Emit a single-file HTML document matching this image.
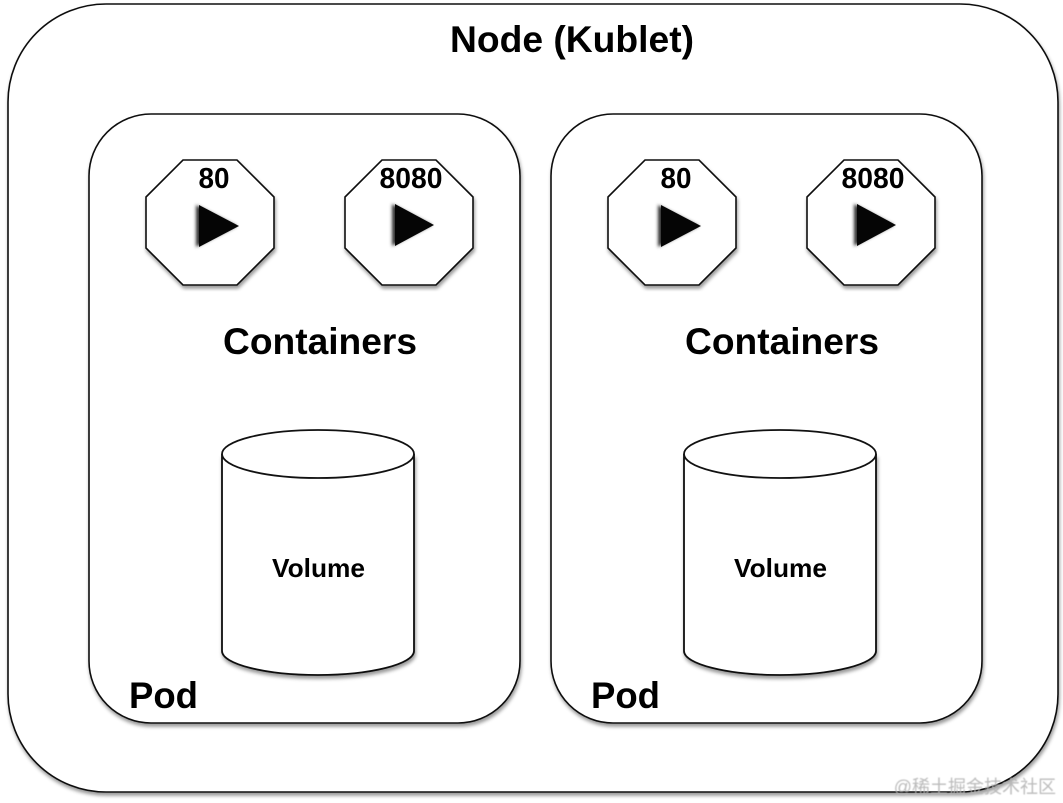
<!DOCTYPE html>
<html><head><meta charset="utf-8"><style>html,body{margin:0;padding:0;background:#fff}svg{display:block}</style></head>
<body>
<svg width="1063" height="803" viewBox="0 0 1063 803" xmlns="http://www.w3.org/2000/svg">
<defs>
<filter id="s" x="-5%" y="-5%" width="110%" height="110%"><feDropShadow dx="1" dy="3" stdDeviation="1.8" flood-color="#000" flood-opacity="0.4"/></filter>
<g id="oct"><polygon points="-27,-62.5 27,-62.5 64,-25.5 64,25.5 27,62.5 -27,62.5 -64,25.5 -64,-25.5" fill="#fff" stroke="#111" stroke-width="1.6" filter="url(#s)"/></g>
<g id="cyl">
<path d="M222,454 L222,651 C222,664 265,675 318,675 C371,675 414,664 414,651 L414,454" fill="#fff" stroke="#111" stroke-width="1.8" filter="url(#s)"/>
<ellipse cx="318" cy="454" rx="96" ry="24" fill="#fff" stroke="#111" stroke-width="1.8"/>
</g>
<filter id="b" x="-30%" y="-30%" width="160%" height="160%"><feGaussianBlur stdDeviation="1.5"/></filter>
<filter id="w" x="-5%" y="-20%" width="110%" height="140%"><feGaussianBlur stdDeviation="0.4"/></filter>
</defs>
<rect width="1063" height="803" fill="#fff"/>
<rect x="8" y="4" width="1050" height="788" rx="98" ry="98" fill="#fff" stroke="#111" stroke-width="1.6" filter="url(#s)"/>
<rect x="89" y="114" width="431" height="609" rx="62" ry="62" fill="#fff" stroke="#111" stroke-width="1.6" filter="url(#s)"/>
<rect x="551" y="114" width="431" height="609" rx="62" ry="62" fill="#fff" stroke="#111" stroke-width="1.6" filter="url(#s)"/>
<g font-family="'Liberation Sans',sans-serif" font-weight="700" fill="#000">
<text x="572" y="52" font-size="37" text-anchor="middle" textLength="244" lengthAdjust="spacingAndGlyphs">Node (Kublet)</text>
<text x="320" y="354" font-size="37" text-anchor="middle" textLength="194" lengthAdjust="spacingAndGlyphs">Containers</text>
<text x="782" y="354" font-size="37" text-anchor="middle" textLength="194" lengthAdjust="spacingAndGlyphs">Containers</text>
<text x="129" y="708" font-size="37" textLength="69" lengthAdjust="spacingAndGlyphs">Pod</text>
<text x="591" y="708" font-size="37" textLength="69" lengthAdjust="spacingAndGlyphs">Pod</text>
</g>
<use href="#oct" x="210" y="222.5"/><use href="#oct" x="409" y="222.5"/>
<use href="#oct" x="672" y="222.5"/><use href="#oct" x="871" y="222.5"/>
<g fill="#000">
<polygon points="196,205 237,226 196,247" filter="url(#b)" fill="#333"/><polygon points="199,205 239,226 199,247" fill="#050505"/>
<polygon points="392,204 432,225 392,246" filter="url(#b)" fill="#333"/><polygon points="395,204 434,225 395,246" fill="#050505"/>
<polygon points="658,205 699,226 658,247" filter="url(#b)" fill="#333"/><polygon points="661,205 701,226 661,247" fill="#050505"/>
<polygon points="854,204 894,225 854,246" filter="url(#b)" fill="#333"/><polygon points="857,204 896,225 857,246" fill="#050505"/>
</g>
<g font-family="'Liberation Sans',sans-serif" font-weight="700" fill="#000" font-size="29" text-anchor="middle">
<text x="214" y="188" textLength="31" lengthAdjust="spacingAndGlyphs">80</text>
<text x="411" y="188" textLength="63" lengthAdjust="spacingAndGlyphs">8080</text>
<text x="676" y="188" textLength="31" lengthAdjust="spacingAndGlyphs">80</text>
<text x="873" y="188" textLength="63" lengthAdjust="spacingAndGlyphs">8080</text>
</g>
<use href="#cyl"/><use href="#cyl" x="462"/>
<g font-family="'Liberation Sans',sans-serif" font-weight="700" fill="#000" font-size="26" text-anchor="middle">
<text x="318.5" y="577" textLength="93" lengthAdjust="spacingAndGlyphs">Volume</text>
<text x="780.5" y="577" textLength="93" lengthAdjust="spacingAndGlyphs">Volume</text>
</g>
<text x="1056" y="793" text-anchor="end" font-family="'Liberation Sans','Noto Sans CJK SC',sans-serif" font-size="18" fill="#b4b4b4" opacity="0.9" filter="url(#w)">@稀土掘金技术社区</text>
</svg>
</body></html>
